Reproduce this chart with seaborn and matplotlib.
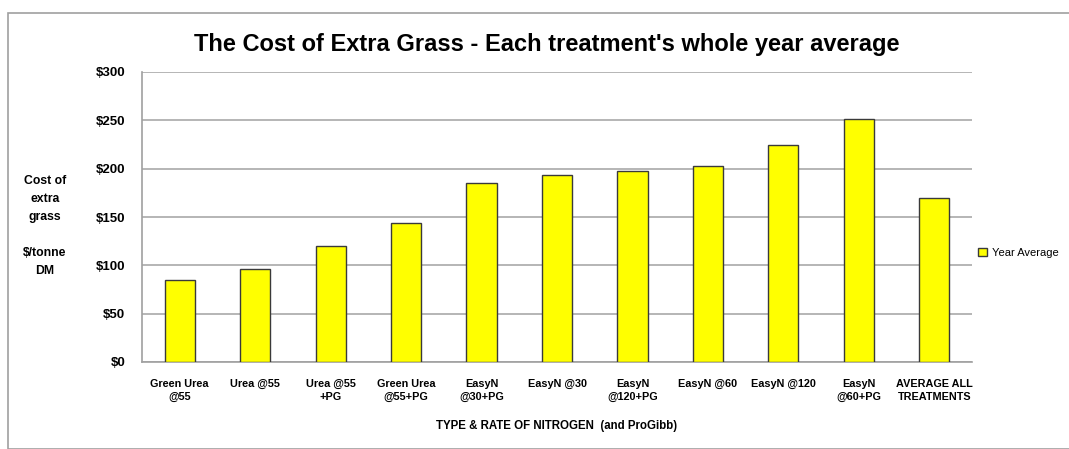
import numpy as np
import matplotlib
matplotlib.use("Agg")
import matplotlib.pyplot as plt
from matplotlib.patches import Patch, Rectangle
import seaborn as sns

# Data
treatments = [
    "Green Urea\n@55", "Urea @55", "Urea @55\n+PG", "Green Urea\n@55+PG",
    "EasyN\n@30+PG", "EasyN @30", "EasyN\n@120+PG", "EasyN @60",
    "EasyN @120", "EasyN\n@60+PG", "AVERAGE ALL\nTREATMENTS",
]
year_average = [85, 96, 120, 144, 185, 193, 198, 203, 224, 251, 170]
y_ticks = [0, 50, 100, 150, 200, 250, 300]

sns.set_style("white")
plt.rcParams["font.family"] = ["Liberation Sans", "DejaVu Sans"]
plt.rcParams["text.color"] = "black"
plt.rcParams["axes.labelcolor"] = "black"
plt.rcParams["xtick.color"] = "black"
plt.rcParams["ytick.color"] = "black"

fig = plt.figure(figsize=(10.69, 4.49), dpi=100)
ax = fig.add_axes([142 / 1069, 1 - 362 / 449, (972 - 142) / 1069, (362 - 72) / 449])

sns.barplot(x=treatments, y=year_average, color="#ffff00", edgecolor="#3a3a3a",
            linewidth=1.0, width=0.4, saturation=1, ax=ax, zorder=3)

ax.set_ylim(0, 300)
ax.set_yticks(y_ticks)
ax.set_yticklabels([f"${v}" for v in y_ticks], fontsize=9.5, fontweight="bold")
ax.tick_params(axis="y", length=0, pad=12)
ax.tick_params(axis="x", length=0, pad=12)
for t in ax.get_xticklabels():
    t.set_fontsize(7.8)
    t.set_fontweight("bold")
    t.set_multialignment("center")
    t.set_verticalalignment("top")
    t.set_linespacing(1.45)

ax.yaxis.grid(True, color="#b0b0b0", linewidth=1.3, zorder=0)
ax.set_axisbelow(True)
for side in ["right", "top"]:
    ax.spines[side].set_visible(False)
ax.spines["left"].set_color("#a0a0a0")
ax.spines["bottom"].set_color("#a0a0a0")
ax.spines["left"].set_linewidth(1.2)
ax.spines["bottom"].set_linewidth(1.2)

ax.set_xlabel("TYPE & RATE OF NITROGEN  (and ProGibb)", fontsize=8.3,
              fontweight="bold", labelpad=13)
ax.set_ylabel("")

fig.text(547 / 1069, 1 - 44 / 449,
         "The Cost of Extra Grass - Each treatment's whole year average",
         ha="center", va="center", fontsize=17, fontweight="bold")
fig.text(45 / 1069, 1 - 226 / 449, "Cost of\nextra\ngrass\n\n$/tonne\nDM",
         ha="center", va="center", fontsize=8.8, fontweight="bold", linespacing=1.65)

# outer chart frame
fig.patches.append(Rectangle((8 / 1069, 0), 1.2, 1 - 13 / 449,
                             transform=fig.transFigure, fill=False,
                             edgecolor="#a0a0a0", linewidth=1.2))

handles = [Patch(facecolor="#ffff00", edgecolor="#3a3a3a", label="Year Average")]
fig.legend(handles=handles, loc="center left", bbox_to_anchor=(976 / 1069, 1 - 253 / 449),
           frameon=False, fontsize=8, handlelength=0.8, handleheight=0.8,
           handletextpad=0.4, borderaxespad=0, borderpad=0.2)

fig.savefig("out.png", dpi=100)
